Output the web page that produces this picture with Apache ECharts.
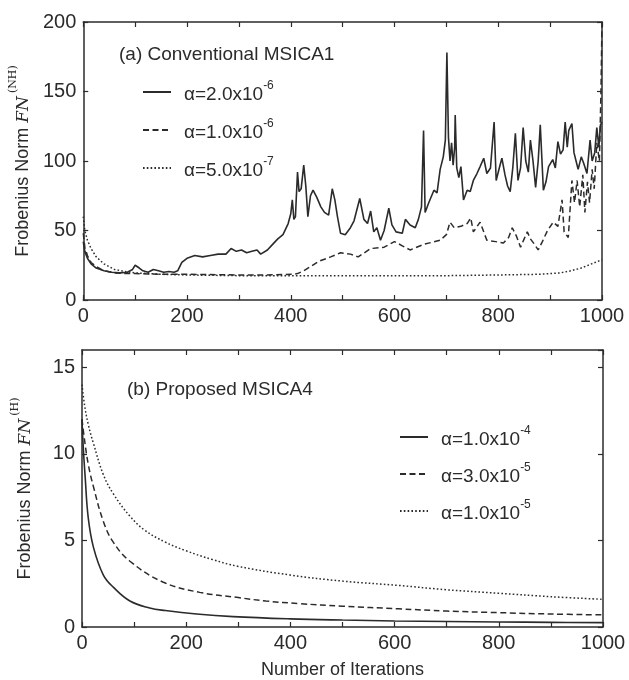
<!DOCTYPE html>
<html><head><meta charset="utf-8">
<script src="https://cdn.jsdelivr.net/npm/echarts@6/dist/echarts.min.js"></script>
<style>html,body{margin:0;padding:0;background:#fff}#c{width:629px;height:680px}</style>
</head><body><div id="c"></div>
<script>
// ---------- Data ----------
// Panel (a): Conventional MSICA1 (iteration, Frobenius norm)
var aNames = ['α=2.0x10^-6', 'α=1.0x10^-6', 'α=5.0x10^-7'];
var aSolid = [[0,42],[3,35],[8,30],[15,26],[25,23],[40,21],[55,20],[70,19.5],[85,20],[95,22],[100,25],[108,23],[115,21],[125,20],[135,22],[145,21],[155,20],[165,20.5],[175,20],[182,21],[190,27],[200,30],[215,32],[230,31],[245,32],[260,33],[275,33],[285,37],[295,35],[305,36],[315,34],[325,35],[335,36],[342,33],[355,36],[365,40],[375,44],[385,47],[395,55],[400,62],[403,72],[406,58],[409,60],[413,92],[416,78],[420,80],[425,97],[429,82],[433,60],[438,75],[443,79],[450,74],[458,67],[465,63],[473,61],[480,80],[485,72],[490,60],[496,48],[505,47],[515,52],[522,57],[533,73],[541,58],[548,55],[554,64],[560,49],[566,52],[573,43],[580,50],[589,66],[595,54],[603,49],[615,48],[621,58],[630,54],[640,52],[646,58],[652,67],[656,122],[659,63],[666,70],[676,79],[682,77],[688,94],[694,103],[698,115],[701,178],[704,117],[707,100],[710,113],[713,97],[716,110],[717,133],[720,95],[724,88],[728,96],[733,72],[740,79],[746,78],[752,86],[759,91],[765,96],[772,102],[778,91],[785,95],[792,128],[796,86],[802,95],[807,102],[813,90],[818,82],[823,78],[828,95],[833,120],[838,86],[843,95],[848,124],[853,100],[858,92],[862,115],[867,100],[872,81],[877,100],[881,126],[887,79],[892,85],[897,96],[905,101],[910,95],[915,114],[920,105],[925,108],[929,128],[933,110],[936,122],[942,127],[946,106],[950,100],[954,94],[960,103],[965,98],[971,91],[977,115],[981,100],[986,106],[990,124],[994,110],[997,126],[1000,128]];
var aDashed = [[0,48],[3,38],[8,32],[15,27],[25,24],[40,21],[60,19.5],[80,19],[100,19],[150,18.5],[200,18.5],[300,18],[350,18],[405,18.5],[413,19],[425,21],[438,24],[455,28],[477,31],[496,34],[515,33],[530,31],[554,37],[580,38],[600,42],[615,39],[630,36],[656,40],[688,43],[700,47],[707,56],[715,52],[728,53],[740,55],[747,59],[752,49],[765,56],[778,43],[795,42],[810,41],[820,45],[827,52],[835,46],[843,38],[850,44],[856,49],[862,44],[870,40],[877,36],[885,42],[895,50],[906,56],[915,53],[923,72],[927,49],[935,45],[942,86],[947,70],[952,86],[957,67],[963,90],[967,63],[972,85],[976,70],[981,94],[985,80],[990,113],[995,100],[998,150],[1000,200]];
var aDotted = [[0,60],[3,50],[8,43],[15,37],[25,31],[40,26],[60,22],[80,20.5],[100,19.5],[150,18.5],[200,18],[300,17.5],[400,17.5],[500,17.5],[600,17.5],[700,17.5],[800,18],[880,18.5],[920,19.5],[940,21],[960,23],[980,26],[1000,29]];

// Panel (b): Proposed MSICA4
var bNames = ['α=1.0x10^-4', 'α=3.0x10^-5', 'α=1.0x10^-5'];
var bSolid = [[0,12],[2,10.6],[6,8.7],[12,6.3],[22,4.6],[41,3.0],[60,2.3],[92,1.5],[130,1.1],[160,0.95],[220,0.75],[290,0.6],[400,0.47],[500,0.4],[600,0.35],[700,0.32],[800,0.29],[900,0.27],[1000,0.25]];
var bDashed = [[0,12],[4,11],[12,9.4],[22,8.1],[41,6.1],[60,4.9],[92,3.8],[155,2.6],[226,2.0],[300,1.7],[353,1.5],[417,1.35],[500,1.2],[608,1.05],[700,0.92],[799,0.83],[900,0.75],[1000,0.7]];
var bDotted = [[0,14],[5,12.8],[12,11.7],[22,10.6],[41,8.8],[60,7.7],[92,6.4],[120,5.6],[160,4.9],[200,4.4],[250,3.9],[300,3.5],[400,3.0],[500,2.65],[608,2.4],[700,2.15],[799,1.95],[900,1.75],[1000,1.6]];

// ---------- Chart ----------
var FONT = 'Liberation Sans, Arial, Helvetica, sans-serif';
var INK = '#2b2b2b';
var chart = echarts.init(document.getElementById('c'), null, {renderer: 'canvas'});

function xAx(gi, pos, labels, name) {
  return {
    type: 'value', gridIndex: gi, position: pos, min: 0, max: 1000, interval: 100,
    axisLine: {show: true, onZero: false, lineStyle: {color: INK, width: 1.5}},
    axisTick: {show: true, inside: true, length: 5, lineStyle: {color: INK, width: 1.2}},
    axisLabel: {show: labels, color: INK, fontFamily: FONT, fontSize: 20, margin: 6,
      formatter: function (v) { return v % 200 === 0 ? String(v) : ''; }},
    splitLine: {show: false},
    name: name || '', nameLocation: 'middle', nameGap: 34,
    nameTextStyle: {color: INK, fontFamily: FONT, fontSize: 18}
  };
}
function yAx(gi, pos, labels, max, interval, nameSup) {
  return {
    type: 'value', gridIndex: gi, position: pos, min: 0, max: max, interval: interval,
    axisLine: {show: true, onZero: false, lineStyle: {color: INK, width: 1.5}},
    axisTick: {show: true, inside: true, length: 5, lineStyle: {color: INK, width: 1.2}},
    axisLabel: {show: labels, color: INK, fontFamily: FONT, fontSize: 20, margin: 7, showMaxLabel: max % interval === 0},
    splitLine: {show: false},
    name: nameSup ? '{t|Frobenius Norm }{f|FN}{s|(' + nameSup + ')}' : '',
    nameLocation: 'middle', nameGap: 48, nameRotate: 90,
    nameTextStyle: {color: INK, rich: {
      t: {fontFamily: FONT, fontSize: 18, color: INK, lineHeight: 24, verticalAlign: 'bottom'},
      f: {fontFamily: 'DejaVu Serif', fontStyle: 'italic', fontSize: 17, color: INK, lineHeight: 24, verticalAlign: 'bottom'},
      s: {fontFamily: 'DejaVu Serif', fontSize: 11, color: INK, lineHeight: 24, verticalAlign: 'top', padding: [0,0,0,3]}
    }}
  };
}
function lineSeries(name, data, xi, yi, type, smooth) {
  var dash = type === 'dashed' ? [6, 3.5] : (type === 'dotted' ? [1.6, 2.2] : 'solid');
  return {
    name: name, type: 'line', xAxisIndex: xi, yAxisIndex: yi, data: data,
    symbol: 'none', smooth: smooth || false, animation: false, color: INK,
    itemStyle: {color: INK},
    lineStyle: {color: INK, width: type === 'solid' ? 1.6 : 1.5, type: dash}
  };
}
function legendFmt(name) {
  var p = name.split('^');
  return '{t|' + p[0] + '}{s|' + p[1] + '}';
}
var legendRich = {
  t: {fontFamily: FONT, fontSize: 19, color: INK, lineHeight: 24, verticalAlign: 'bottom', padding: [0,0,0,8]},
  s: {fontFamily: FONT, fontSize: 12, color: INK, lineHeight: 24, verticalAlign: 'top'}
};
var legendCommon = {orient: 'vertical', itemWidth: 28, itemHeight: 14, formatter: legendFmt,
  textStyle: {rich: legendRich}, selectedMode: false,
  itemStyle: {opacity: 0, borderWidth: 0}};

chart.setOption({
  backgroundColor: '#fff',
  animation: false,
  grid: [
    {left: 82, top: 22, width: 520, height: 278, containLabel: false},
    {left: 82, top: 350, width: 521, height: 277, containLabel: false}
  ],
  title: [
    {text: '(a) Conventional MSICA1', left: 114, top: 40, textStyle: {fontFamily: FONT, fontSize: 19, fontWeight: 'normal', color: INK}},
    {text: '(b) Proposed MSICA4', left: 122, top: 375, textStyle: {fontFamily: FONT, fontSize: 19, fontWeight: 'normal', color: INK}}
  ],
  legend: [
    Object.assign({data: aNames, left: 137, top: 75, itemGap: 14}, legendCommon),
    Object.assign({data: bNames, left: 394, top: 420, itemGap: 13}, legendCommon)
  ],
  xAxis: [
    xAx(0, 'bottom', true), xAx(0, 'top', false),
    xAx(1, 'bottom', true, 'Number of Iterations'), xAx(1, 'top', false)
  ],
  yAxis: [
    yAx(0, 'left', true, 200, 50, 'NH'), yAx(0, 'right', false, 200, 50),
    yAx(1, 'left', true, 16, 5, 'H'), yAx(1, 'right', false, 16, 5)
  ],
  series: [
    lineSeries(aNames[0], aSolid, 0, 0, 'solid'),
    lineSeries(aNames[1], aDashed, 0, 0, 'dashed'),
    lineSeries(aNames[2], aDotted, 0, 0, 'dotted'),
    lineSeries(bNames[0], bSolid, 2, 2, 'solid', 0.4),
    lineSeries(bNames[1], bDashed, 2, 2, 'dashed', 0.4),
    lineSeries(bNames[2], bDotted, 2, 2, 'dotted', 0.4)
  ]
});
</script>
</body></html>
